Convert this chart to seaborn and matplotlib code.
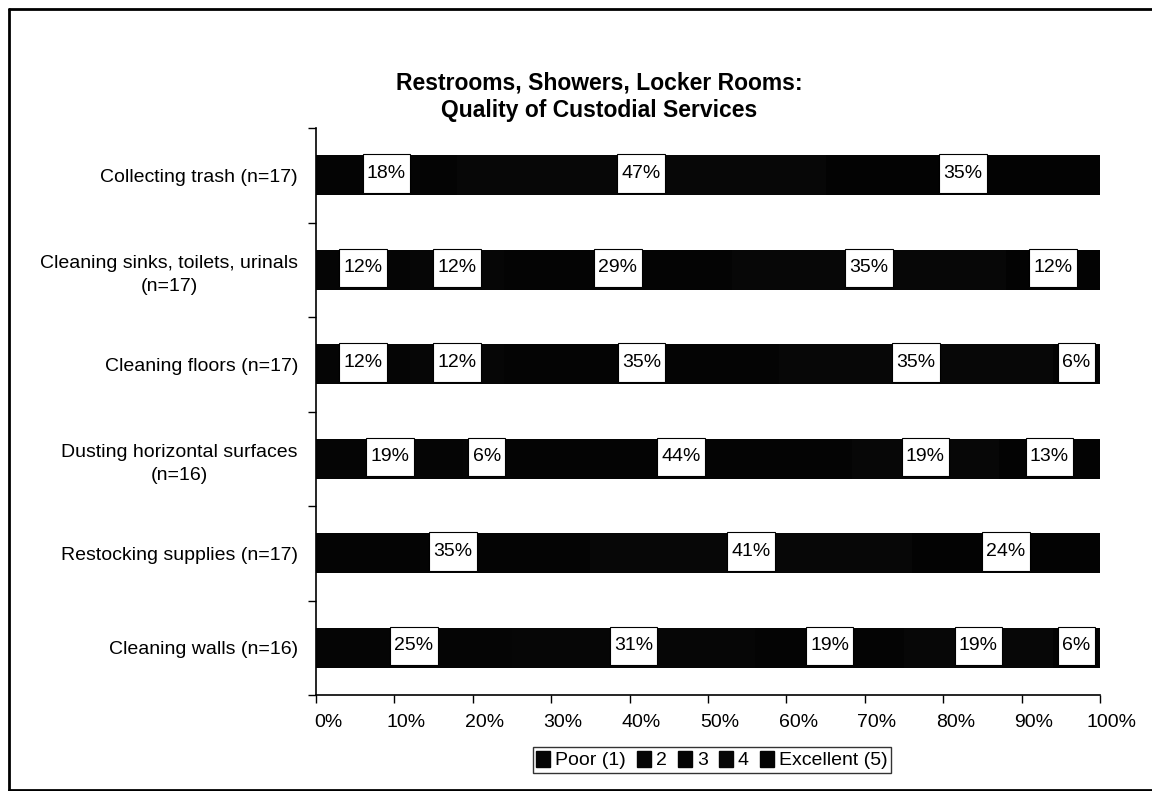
import numpy as np
import pandas as pd
import matplotlib
matplotlib.use("Agg")
import matplotlib.pyplot as plt
import matplotlib.transforms as mtransforms
import seaborn as sns
from matplotlib.patches import Patch
from matplotlib.lines import Line2D
from matplotlib.path import Path

# Chart data (percent of respondents per rating)
categories = [
    "Collecting trash (n=17)",
    "Cleaning sinks, toilets, urinals\n(n=17)",
    "Cleaning floors (n=17)",
    "Dusting horizontal surfaces\n(n=16)",
    "Restocking supplies (n=17)",
    "Cleaning walls (n=16)",
]
ratings = ["Poor (1)", "2", "3", "4", "Excellent (5)"]
poor = [0, 12, 12, 19, 0, 25]
two = [0, 12, 12, 6, 0, 31]
three = [18, 29, 35, 44, 35, 19]
four = [47, 35, 35, 19, 41, 19]
excellent = [35, 12, 6, 13, 24, 6]
x_ticks = [0, 10, 20, 30, 40, 50, 60, 70, 80, 90, 100]
colors = ["#050505", "#060606", "#040404", "#070707", "#030303"]

sns.set_style("white")
plt.rcParams["font.family"] = ["Liberation Sans", "DejaVu Sans"]
plt.rcParams["text.color"] = "black"
plt.rcParams["xtick.color"] = "black"
plt.rcParams["ytick.color"] = "black"
plt.rcParams["axes.labelcolor"] = "black"


# label box: narrow side padding, taller top/bottom padding
def label_box(x0, y0, width, height, mutation_size):
    px, py = 0.22 * mutation_size, 0.55 * mutation_size
    x0, y0 = x0 - px, y0 - py
    x1, y1 = x0 + width + 2 * px, y0 + height + 2 * py
    return Path([(x0, y0), (x1, y0), (x1, y1), (x0, y1), (x0, y0)], closed=True)


# Build table, normalise each row to 100%
pct = pd.DataFrame(np.array([poor, two, three, four, excellent]).T,
                   index=categories, columns=ratings)
share = pct.div(pct.sum(axis=1), axis=0) * 100
cum = share.cumsum(axis=1)

fig = plt.figure(figsize=(11.52, 7.91), dpi=100)
ax = fig.add_axes([316 / 1152, 1 - 695 / 791, 784 / 1152, 567 / 791])

# draw stacked bars: longest cumulative first so later segments sit on top
for r, col in reversed(list(zip(ratings, colors))):
    df = pd.DataFrame({"cat": categories, "val": cum[r].values})
    sns.barplot(data=df, x="val", y="cat", orient="h", color=col,
                width=0.42, saturation=1, ax=ax, edgecolor=col, linewidth=0)

# value labels in white boxes
for i, c in enumerate(categories):
    for r in ratings:
        v = pct.loc[c, r]
        if v <= 0:
            continue
        mid = cum.loc[c, r] - share.loc[c, r] / 2
        ax.text(mid, i - 0.02, f"{v}%", ha="center", va="center", fontsize=14,
                color="black",
                bbox=dict(boxstyle=label_box, fc="white", ec="black", lw=0.8))

ax.set_xlim(0, 100)
ax.set_ylim(5.5, -0.5)
ax.set_xticks(x_ticks)
ax.set_xticklabels([f"{t}%" for t in x_ticks], fontsize=14)
ax.set_xlabel("")
ax.set_ylabel("")
ax.set_yticks(range(len(categories)))
ax.set_yticklabels(categories, fontsize=14, multialignment="center", linespacing=1.45)
ax.set_yticks(np.arange(-0.5, 6, 1), minor=True)
ax.tick_params(axis="y", which="major", length=0, pad=13)
ax.tick_params(axis="y", which="minor", length=6, width=1, color="black", direction="out", left=True)
ax.tick_params(axis="x", which="major", length=6, width=1, color="black", direction="out", bottom=True, pad=8)
# tick labels in the scan sit a little right of their ticks
shift = mtransforms.ScaledTranslation(12 / 100, 0, fig.dpi_scale_trans)
for lab in ax.get_xticklabels():
    lab.set_transform(lab.get_transform() + shift)
for s in ["top", "right"]:
    ax.spines[s].set_visible(False)
for s in ["left", "bottom"]:
    ax.spines[s].set_color("black")
    ax.spines[s].set_linewidth(1.2)

fig.text(0.52, 1 - 97 / 791, "Restrooms, Showers, Locker Rooms:\nQuality of Custodial Services",
         ha="center", va="center", fontsize=16.5, fontweight="bold", linespacing=1.25,
         color="black")

handles = [Patch(facecolor=c, edgecolor=c) for c in colors]
leg = fig.legend(handles, ratings, loc="center", bbox_to_anchor=(712 / 1152, 1 - 760 / 791),
                 ncol=5, fontsize=14, frameon=True, fancybox=False, handlelength=0.7,
                 handleheight=0.9, handletextpad=0.25, columnspacing=0.6,
                 borderpad=0.2, borderaxespad=0)
leg.get_frame().set_edgecolor("black")
leg.get_frame().set_linewidth(1.0)

# outer frame of the scanned page
fig.add_artist(Line2D([9 / 1152, 9 / 1152], [0, 1 - 9 / 791], color="black", lw=2))
fig.add_artist(Line2D([9 / 1152, 1], [1 - 9 / 791, 1 - 9 / 791], color="black", lw=2))
fig.add_artist(Line2D([9 / 1152, 1], [1.5 / 791, 1.5 / 791], color="black", lw=2))

fig.savefig("out.png", dpi=100)
